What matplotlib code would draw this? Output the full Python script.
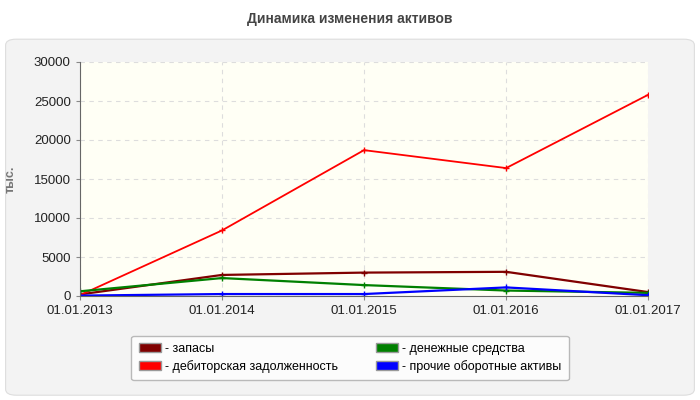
import matplotlib.pyplot as plt
from matplotlib.patches import FancyBboxPatch, Patch

dates = ["01.01.2013", "01.01.2014", "01.01.2015", "01.01.2016", "01.01.2017"]
zapasy = [200, 2700, 3000, 3100, 500]
debitor = [100, 8400, 18700, 16400, 25800]
dengi = [600, 2300, 1400, 700, 400]
prochie = [50, 250, 250, 1100, 100]

plt.rcParams['font.family'] = ['Liberation Sans', 'DejaVu Sans']
fig = plt.figure(figsize=(7, 4), dpi=100)
fig.patch.set_facecolor('white')
fig.patches.append(FancyBboxPatch((0.008, 0.012), 0.984, 0.89,
                                  boxstyle="round,pad=0,rounding_size=0.015",
                                  transform=fig.transFigure, facecolor='#f3f3f3',
                                  edgecolor='#dddddd', lw=0.8, zorder=-10))
fig.text(0.5, 0.952, "Динамика изменения активов", ha='center', va='center',
         fontsize=10, fontweight='bold', color='#444444')

ax = fig.add_axes([0.114, 0.26, 0.812, 0.585])
ax.set_facecolor('#fffff5')
x = range(len(dates))
for vals, c in [(zapasy, '#800000'), (debitor, '#ff0000'), (dengi, '#008000'), (prochie, '#0000ff')]:
    ax.plot(x, vals, color=c, lw=1.6 if c != '#ff0000' else 1.3, marker='+', ms=4, mew=1)
ax.set_xlim(0, 4)
ax.set_ylim(0, 30000)
ax.set_yticks(range(0, 30001, 5000))
ax.set_xticks(list(x))
ax.set_xticklabels(dates)
ax.grid(True, ls=(0, (4, 4)), color='#dddddd', lw=0.8)
ax.tick_params(labelsize=9.5, length=3, color='#888888', labelcolor='#222222')
for s in ['top', 'right']:
    ax.spines[s].set_visible(False)
for s in ['left', 'bottom']:
    ax.spines[s].set_color('#666666')
ax.set_ylabel("тыс.", fontsize=9, fontweight='bold', color='#777777', labelpad=12)

handles = [Patch(facecolor=c, edgecolor='#999999') for c in ['#800000', '#ff0000', '#008000', '#0000ff']]
labels = ["- запасы", "- дебиторская задолженность", "- денежные средства", "- прочие оборотные активы"]
leg = fig.legend(handles, labels, loc='center', bbox_to_anchor=(0.5, 0.105), ncol=2,
                 fontsize=9, frameon=True, handlelength=1.8, handleheight=0.7,
                 handletextpad=0.3, columnspacing=3, borderpad=0.6, labelspacing=0.4)
leg.get_frame().set_edgecolor('#aaaaaa')
leg.get_frame().set_facecolor('white')

fig.savefig('out.png', dpi=100)
